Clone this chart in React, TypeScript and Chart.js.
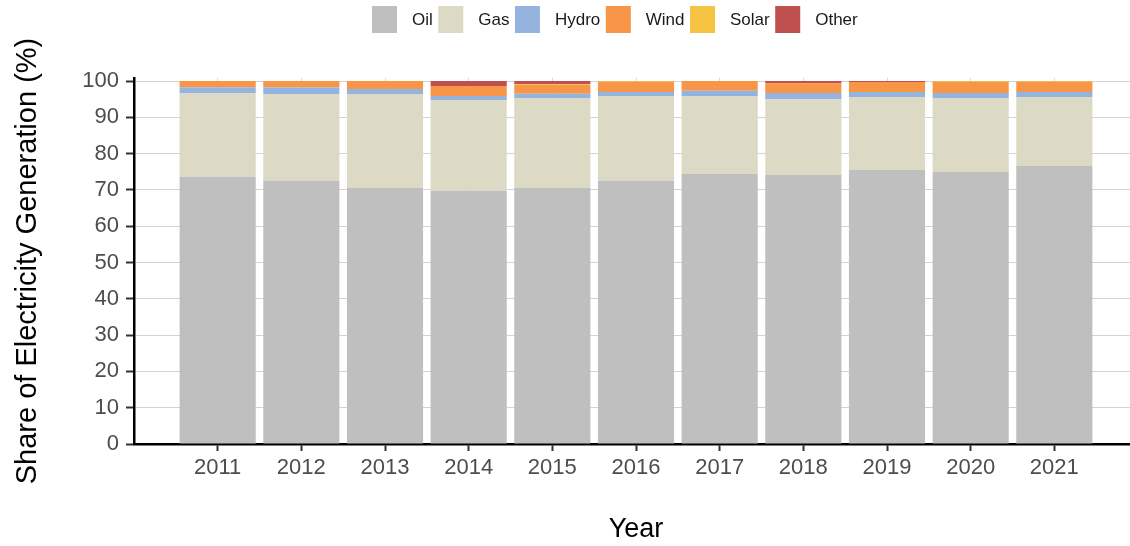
import React, { useEffect, useRef } from "react";
import { Chart, registerables } from "chart.js";

Chart.register(...registerables);

const years = [2011, 2012, 2013, 2014, 2015, 2016, 2017, 2018, 2019, 2020, 2021];
const oil = [73.6, 72.5, 70.5, 69.8, 70.5, 72.5, 74.4, 74.1, 75.5, 74.9, 76.6];
const gas = [23.1, 23.9, 25.9, 25.0, 24.8, 23.4, 21.5, 20.9, 20.1, 20.4, 19.0];
const hydro = [1.6, 1.8, 1.4, 1.1, 1.2, 1.1, 1.4, 1.7, 1.4, 1.4, 1.4];
const wind = [1.7, 1.8, 2.2, 2.7, 2.5, 2.8, 2.7, 2.7, 2.7, 3.1, 2.8];
const solar = [0, 0, 0, 0, 0.15, 0.2, 0, 0, 0, 0.2, 0.2];
const other = [0, 0, 0, 1.4, 0.85, 0, 0, 0.6, 0.3, 0, 0];

const seriesNames = ["Oil", "Gas", "Hydro", "Wind", "Solar", "Other"];
const seriesValues = [oil, gas, hydro, wind, solar, other];
const seriesColors = ["#bfbfbf", "#dcd9c4", "#95b3df", "#f79646", "#f5c242", "#c0504d"];
const yTicks = [0, 10, 20, 30, 40, 50, 60, 70, 80, 90, 100];

const FONT = "'Liberation Sans', Arial, Helvetica, sans-serif";

const legendPlugin = {
  id: "topLegend",
  afterDraw(chart: any) {
    const ctx = chart.ctx;
    ctx.save();
    ctx.font = `17px ${FONT}`;
    ctx.textBaseline = "middle";
    ctx.textAlign = "left";
    let x = 372;
    chart.data.datasets.forEach((ds: any) => {
      ctx.fillStyle = ds.backgroundColor;
      ctx.fillRect(x, 6, 25, 27);
      ctx.fillStyle = "#1a1a1a";
      ctx.fillText(ds.label, x + 40, 20);
      x += 40 + ctx.measureText(ds.label).width + 5.5;
    });
    ctx.restore();
  },
};

export default function App() {
  const ref = useRef<HTMLCanvasElement | null>(null);

  useEffect(() => {
    if (!ref.current) return;
    const datasets = seriesNames.map((name, i) => ({
      label: name,
      data: years.map((yr, j) => ({ x: yr, y: seriesValues[i][j] })),
      backgroundColor: seriesColors[i],
      borderWidth: 0,
      barPercentage: 0.91,
      categoryPercentage: 1,
    }));
    const chart = new Chart(ref.current, {
      type: "bar",
      data: { datasets },
      plugins: [legendPlugin],
      options: {
        animation: false,
        responsive: false,
        layout: { padding: { top: 78, right: 12, left: 0, bottom: 0 } },
        plugins: {
          legend: { display: false },
          tooltip: { enabled: false },
        },
        scales: {
          x: {
            type: "linear",
            stacked: true,
            min: 2010,
            max: 2022,
            offset: false,
            afterBuildTicks: (scale: any) => {
              scale.ticks = years.map((v) => ({ value: v }));
            },
            afterFit: (scale: any) => {
              scale.height = 102;
            },
            ticks: {
              stepSize: 1,
              autoSkip: false,
              maxRotation: 0,
              padding: 4,
              color: "#4d4d4d",
              font: { family: FONT, size: 22 },
              callback: (v: any) => String(v),
            },
            grid: {
              offset: false,
              color: "#dadada",
              lineWidth: 1,
              tickColor: "#333333",
              tickLength: 7,
              tickWidth: 2,
            },
            border: { display: true, color: "#000000", width: 2.5 },
            title: {
              display: true,
              text: "Year",
              color: "#000000",
              font: { family: FONT, size: 27 },
              padding: { top: 0, bottom: 0 },
            },
          },
          y: {
            stacked: true,
            min: 0,
            max: 100.83,
            afterBuildTicks: (scale: any) => {
              scale.ticks = yTicks.map((v) => ({ value: v }));
            },
            afterFit: (scale: any) => {
              scale.width = 134;
            },
            ticks: {
              stepSize: 10,
              includeBounds: false,
              padding: 7,
              color: "#4d4d4d",
              font: { family: FONT, size: 22 },
              callback: (v: any) => String(v),
            },
            grid: {
              color: "#d3d3d3",
              lineWidth: 1,
              tickColor: "#333333",
              tickLength: 8,
              tickWidth: 2,
            },
            border: { display: true, color: "#000000", width: 2.5 },
            title: {
              display: true,
              text: "Share of Electricity Generation (%)",
              color: "#000000",
              font: { family: FONT, size: 29 },
              padding: { top: 11, bottom: 0 },
            },
          },
        },
      } as any,
    });
    return () => chart.destroy();
  }, []);

  return (
    <div
      style={{
        position: "fixed",
        left: 0,
        top: 0,
        width: 1130,
        height: 546,
        overflow: "hidden",
        background: "#ffffff",
      }}
    >
      <canvas ref={ref} width={1150} height={546} style={{ display: "block" }} />
    </div>
  );
}
